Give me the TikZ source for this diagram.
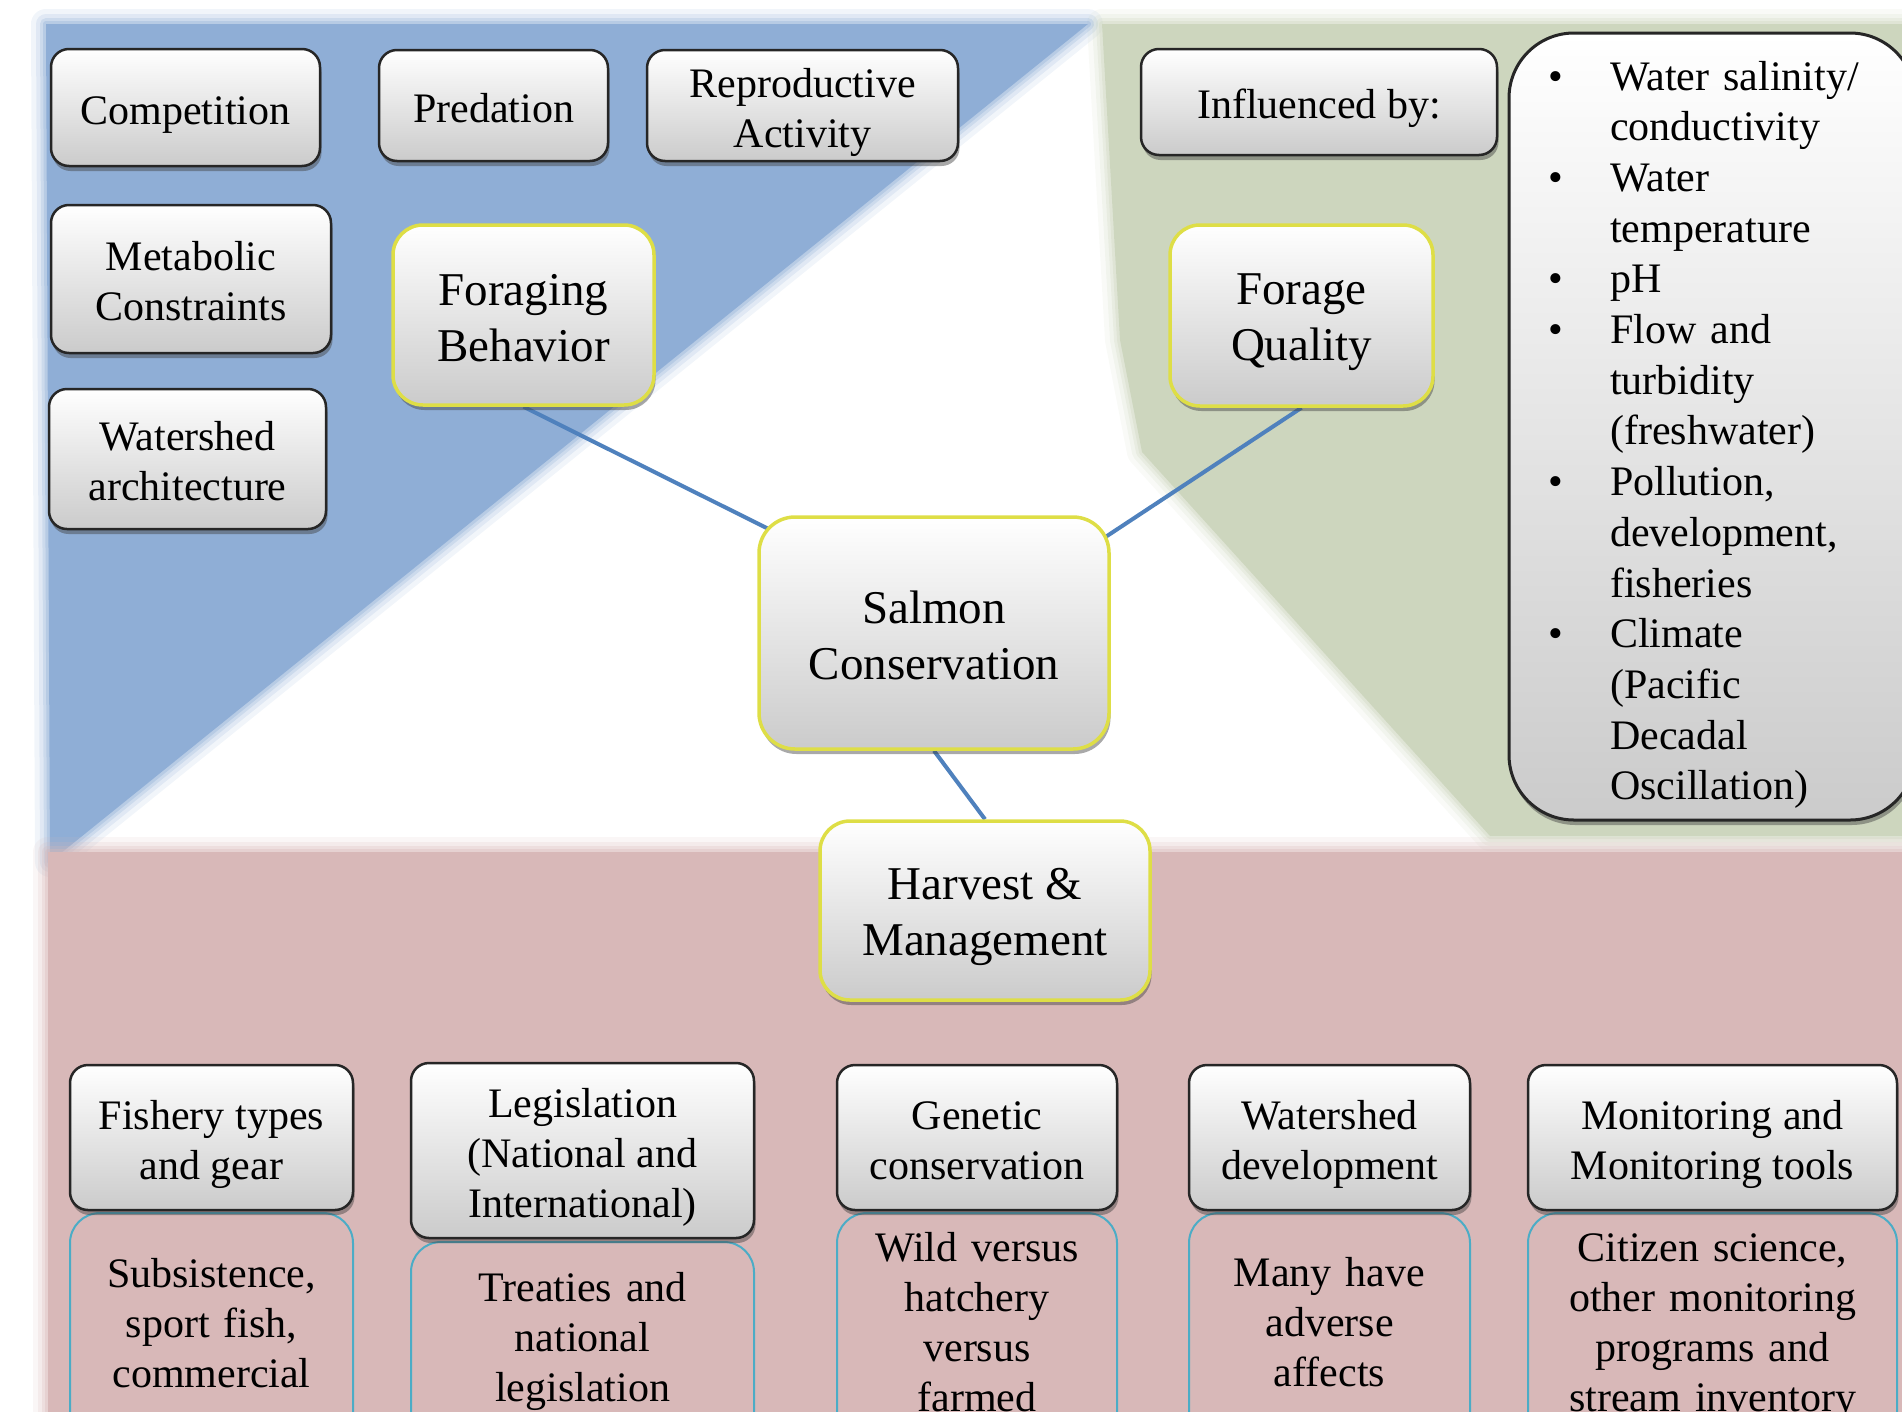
\documentclass[tikz,border=0pt]{standalone}
\usepackage{fontspec}
\setmainfont{Liberation Serif}
\usetikzlibrary{shadows,calc}
\definecolor{bluebg}{RGB}{143,174,214}
\definecolor{greenbg}{RGB}{205,214,190}
\definecolor{pinkbg}{RGB}{216,184,184}
\definecolor{lineblue}{RGB}{79,129,189}
\definecolor{cyanb}{RGB}{75,172,198}
\definecolor{ybord}{RGB}{222,222,70}
\definecolor{boxbot}{RGB}{203,203,203}
\newcommand\fsmall{\fontsize{42}{50}\selectfont}
\newcommand\fbig{\fontsize{47}{56}\selectfont}
\newcommand\lstbul{\makebox[62pt][l]{\textbullet}}
\newcommand\lstind{\hspace*{62pt}}
\newcommand\strtop{\rule{0pt}{44pt}}
\newcommand\strbot{\rule[-11pt]{0pt}{0pt}}
\newcommand\strbotb{\rule[-8pt]{0pt}{0pt}}
\pgfdeclarelayer{bg}
\pgfdeclarelayer{lines}
\pgfsetlayers{bg,lines,main}
\begin{document}
\begin{tikzpicture}[x=1pt,y=-1pt,
  gbox/.style={draw=black!85, line width=2.5pt, rounded corners=18pt,
    top color=white, bottom color=boxbot,
    drop shadow={shadow xshift=1.5pt, shadow yshift=-5pt, opacity=.45, fill=black!75},
    inner sep=0pt, align=center, font=\fsmall},
  ybox/.style={gbox, draw=ybord, line width=3.5pt, rounded corners=30pt, font=\fbig},
  lowbox/.style={draw=cyanb, line width=2pt, fill=pinkbg, rounded corners=30pt, inner sep=0pt, anchor=north},
  lowtxt/.style={text width=#1, align=center, anchor=base, inner sep=0pt, font=\fsmall},
  conn/.style={draw=lineblue, line width=4pt},
  soft/.style={line join=round}
]
\useasboundingbox (0,0) rectangle (1902,1411);
\clip (0,0) rectangle (1902,1411);

% ---------- nodes ----------
\node[gbox, minimum width=269pt, minimum height=117pt] (comp) at (185.5,107.5) {\strtop Competition\strbot};
\node[gbox, minimum width=229pt, minimum height=111pt] (pred) at (493.5,105.5) {\strtop Predation\strbot};
\node[gbox, minimum width=311pt, minimum height=111pt] (repr) at (802.5,105.5) {\strtop Reproductive\\Activity\strbot};
\node[gbox, minimum width=280pt, minimum height=148pt] (meta) at (191,279) {\strtop Metabolic\\Constraints\strbot};
\node[gbox, minimum width=277pt, minimum height=140pt] (wsha) at (187.5,459) {\strtop Watershed\\architecture\strbot};
\node[ybox, minimum width=261pt, minimum height=180pt] (forb) at (523.5,315) {\strtop Foraging\\Behavior\strbotb};

\node[gbox, minimum width=356pt, minimum height=106pt] (infl) at (1319,102) {\strtop Influenced by:\strbot};
\node[gbox, rounded corners=65pt, line width=3pt, minimum width=406pt, minimum height=787pt] (blist) at (1712,426.5) {};
\node[anchor=base west, text width=340pt, align=left, inner sep=0pt, font=\fontsize{42}{50.7}\selectfont] (blisttxt) at (1548,90) {%
\lstbul Water salinity/\\
\lstind conductivity\\
\lstbul Water\\
\lstind temperature\\
\lstbul pH\\
\lstbul Flow and\\
\lstind turbidity\\
\lstind (freshwater)\\
\lstbul Pollution,\\
\lstind development,\\
\lstind fisheries\\
\lstbul Climate\\
\lstind (Pacific\\
\lstind Decadal\\
\lstind Oscillation)};
\node[ybox, minimum width=263pt, minimum height=181pt] (forq) at (1301.5,315.5) {\strtop Forage\\Quality\strbotb};

\node[ybox, rounded corners=36pt, minimum width=350pt, minimum height=232pt] (sal) at (934,633) {\strtop Salmon\\Conservation\strbotb};
\node[ybox, minimum width=330pt, minimum height=179pt] (harv) at (985,910.5) {\strtop Harvest \&\\Management\strbotb};

% lower pink boxes
\node[lowbox, minimum width=283pt, minimum height=260pt] (fishl) at (211.5,1212) {};
\node[lowbox, minimum width=343pt, minimum height=240pt] (legil) at (582.5,1241) {};
\node[lowbox, minimum width=280pt, minimum height=260pt] (genel) at (977,1212) {};
\node[lowbox, minimum width=281pt, minimum height=260pt] (wdevl) at (1329.5,1212) {};
\node[lowbox, minimum width=369pt, minimum height=260pt] (monil) at (1712.5,1212) {};

% upper grey boxes of bottom row
\node[gbox, minimum width=283pt, minimum height=145pt] (fish) at (211.5,1137.5) {\strtop Fishery types\\and gear\strbot};
\node[gbox, minimum width=343pt, minimum height=175pt] (legi) at (582.5,1150.5) {\strtop Legislation\\(National and\\International)\strbot};
\node[gbox, minimum width=280pt, minimum height=145pt] (gene) at (977,1137.5) {\strtop Genetic\\conservation\strbot};
\node[gbox, minimum width=281pt, minimum height=145pt] (wdev) at (1329.5,1137.5) {\strtop Watershed\\development\strbot};
\node[gbox, minimum width=369pt, minimum height=145pt] (moni) at (1712.5,1137.5) {\strtop Monitoring and\\Monitoring tools\strbot};

% texts of lower boxes
\node[lowtxt=283pt] (fisht) at (211.5,1287) {Subsistence,\\sport fish,\\commercial};
\node[lowtxt=343pt] (legit) at (582.5,1301) {Treaties and\\national\\legislation};
\node[lowtxt=280pt] (genet) at (977,1261) {Wild versus\\hatchery\\versus\\farmed};
\node[lowtxt=281pt] (wdevt) at (1329.5,1286) {Many have\\adverse\\affects};
\node[lowtxt=369pt] (monit) at (1712.5,1261) {Citizen science,\\other monitoring\\programs and\\stream inventory};

% ---------- connectors ----------
\begin{pgfonlayer}{lines}
\draw[conn] (forb.south) -- ($(sal.north west)+(46,31)$);
\draw[conn] (forq.south) -- ($(sal.north east)+(-33,40)$);
\draw[conn] (sal.south) -- (harv.north);
\end{pgfonlayer}

% ---------- background regions ----------
\begin{pgfonlayer}{bg}
\foreach \w/\o in {30/0.12,20/0.18,12/0.25,6/0.35}{
  \draw[bluebg, soft, line width=\w pt, opacity=\o] (46,24) -- (1088,24) -- (50,862) -- cycle;
  \draw[greenbg, soft, line width=\w pt, opacity=\o] (1102,24) -- (1915,24) -- (1915,836) -- (1490,836) -- (1142,452) -- (1120,340) -- cycle;
}
\fill[bluebg] (46,24) -- (1088,24) -- (50,862) -- cycle;
\fill[greenbg] (1102,24) -- (1915,24) -- (1915,836) -- (1490,836) -- (1142,452) -- (1120,340) -- cycle;
\foreach \w/\o in {30/0.12,20/0.18,12/0.25,6/0.35}{
  \draw[pinkbg, soft, line width=\w pt, opacity=\o] (48,1430) -- (48,852) -- (1915,852);
}
\fill[pinkbg] (48,852) rectangle (1915,1430);
\end{pgfonlayer}
\end{tikzpicture}
\end{document}
